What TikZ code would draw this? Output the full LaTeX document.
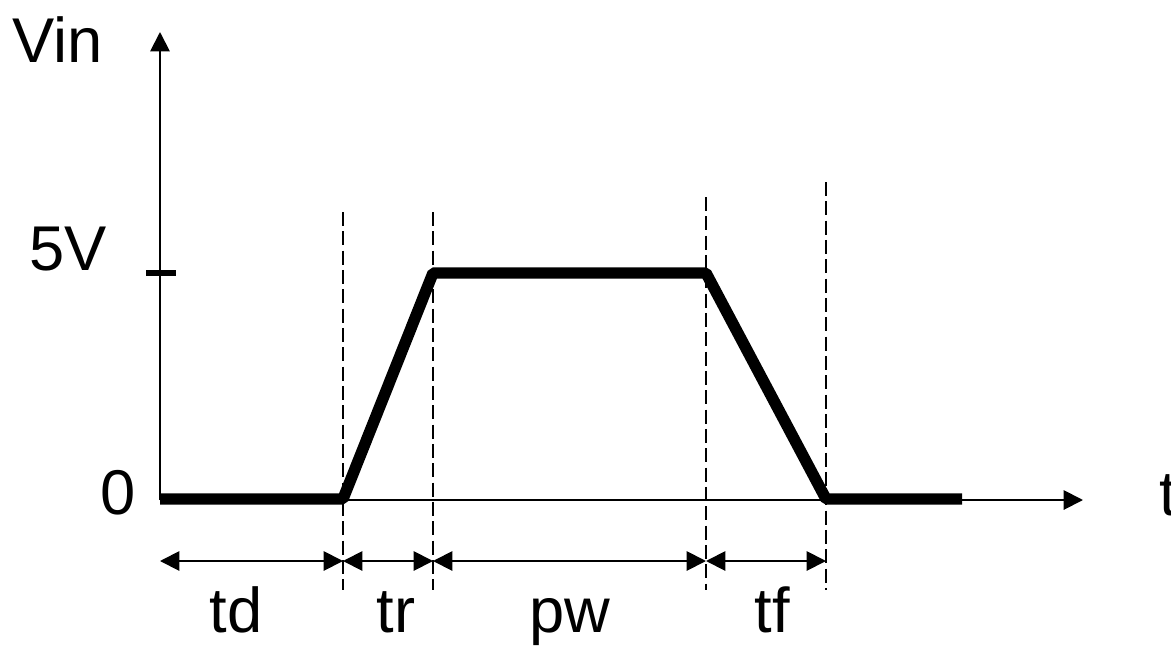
\documentclass[tikz,border=0pt]{standalone}
\usepackage{fontspec}
\setmainfont{Liberation Sans}
\usetikzlibrary{arrows.meta}
\tikzset{
  eje/.style={-{Triangle[length=11pt,width=11pt]},line width=1.1pt},
  senal/.style={line width=6.5pt,line join=bevel},
  guia/.style={line width=0.9pt,dash pattern=on 8pt off 3pt},
  cota/.style={{Triangle[length=11pt,width=11pt]}-{Triangle[length=11pt,width=11pt]},line width=1.1pt},
  rotulo/.style={font=\fontsize{36}{43}\selectfont,inner sep=0pt,anchor=base},
}
\begin{document}
\begin{tikzpicture}[x=0.02cm,y=-0.02cm]
  \useasboundingbox (0,0) rectangle (1171,646);
  \coordinate (O) at (160,500);
  \coordinate (ytop) at (160,32);
  \coordinate (xfin) at (1083,500);
  \draw[eje] (O) -- (ytop);
  \draw[eje] (O) -- (xfin);
  \coordinate (m1) at (146,273);
  \coordinate (m2) at (176,273);
  \draw[line width=3.4pt] (m1) -- (m2);
  \coordinate (s0) at (160,499);
  \coordinate (s1) at (343,499);
  \coordinate (s2) at (433,273);
  \coordinate (s3) at (706,273);
  \coordinate (s4) at (826,499);
  \coordinate (s5) at (962,499);
  \draw[senal] (s0) -- (s1) -- (s2) -- (s3) -- (s4) -- (s5);
  \foreach \x/\y [count=\i] in {343/212,433/212,706/197,826/182} {
    \coordinate (g\i a) at (\x,\y);
    \coordinate (g\i b) at (\x,590);
    \draw[guia] (g\i a) -- (g\i b);
  }
  \coordinate (c0) at (160,561);
  \coordinate (c1) at (343,561);
  \coordinate (c2) at (433,561);
  \coordinate (c3) at (706,561);
  \coordinate (c4) at (826,561);
  \draw[cota] (c0) -- (c1);
  \draw[cota] (c1) -- (c2);
  \draw[cota] (c2) -- (c3);
  \draw[cota] (c3) -- (c4);
  \node[rotulo] (vin) at (58,62) {Vin};
  \node[rotulo] (cinco) at (68,270) {5V};
  \node[rotulo] (cero) at (118,514) {0};
  \node[rotulo] (tiempo) at (1168,515) {t};
  \node[rotulo] (td) at (236,632) {td};
  \node[rotulo] (tr) at (396,632) {tr};
  \node[rotulo] (pw) at (570,632) {pw};
  \node[rotulo] (tf) at (772,632) {tf};
\end{tikzpicture}
\end{document}
